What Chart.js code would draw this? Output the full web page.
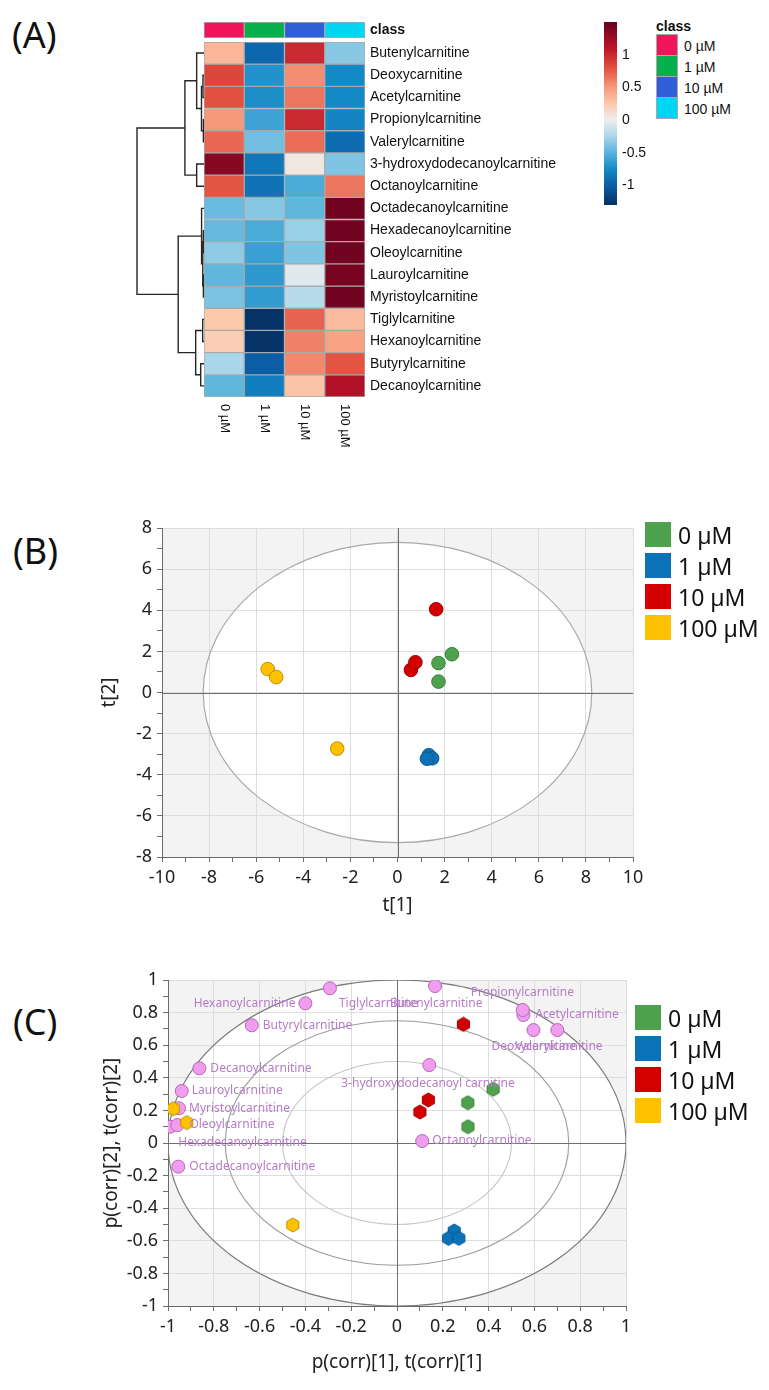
<!DOCTYPE html>
<html>
<head>
<meta charset="utf-8">
<title>Carnitine profile</title>
<script src="https://cdn.jsdelivr.net/npm/chart.js@4.4.1/dist/chart.umd.min.js"></script>
<style>
  body { margin: 0; background: #fff; }
  #page { position: relative; width: 769px; height: 1390px; overflow: hidden; font-family: "Noto Sans", sans-serif; color: #111; }
  canvas, .tag, .legend { position: absolute; }
  .tag { font-size: 36px; line-height: 1; }
  .legend .item { display: flex; align-items: center; }
  .legend .sw { flex: none; }
  #classLegend { font-family: "Liberation Sans", sans-serif; font-size: 14px; }
  #classLegend .head { font-weight: bold; margin-bottom: 1px; }
  #classLegend .sw { width: 20px; height: 20px; border: 1px solid #a8a8a8; margin-top: -1px; }
  #classLegend .txt { margin-left: 6px; }
  .big .item { height: 31px; font-size: 23px; }
  .big .sw { width: 26px; height: 25px; }
  .big .txt { margin-left: 7px; }
</style>
</head>
<body>
<div id="page">
  <div class="tag" style="left:12px;top:17px">(A)</div>
  <div class="tag" style="left:13px;top:533px">(B)</div>
  <div class="tag" style="left:13px;top:1004px">(C)</div>
  <canvas id="dendro" width="76" height="470" style="left:130px;top:0"></canvas>
  <canvas id="heatmap" width="460" height="470" style="left:130px;top:0"></canvas>
  <canvas id="colorbar" width="60" height="230" style="left:590px;top:0"></canvas>
  <div id="classLegend" class="legend" style="left:656px;top:18px"></div>
  <canvas id="scores" width="769" height="430" style="left:0;top:500px"></canvas>
  <div id="scoresLegend" class="legend big" style="left:645px;top:519px"></div>
  <canvas id="biplot" width="769" height="450" style="left:0;top:940px"></canvas>
  <div id="biplotLegend" class="legend big" style="left:635px;top:1002px"></div>
</div>
<script>
Chart.defaults.animation = false;
Chart.defaults.font.family = '"Noto Sans", sans-serif';
Chart.defaults.plugins.legend.display = false;
Chart.defaults.plugins.tooltip.enabled = false;

// ---------- data: panel A (heatmap, z-scores) ----------
const classes = ['0 µM', '1 µM', '10 µM', '100 µM'];
const carnitines = ['Butenylcarnitine', 'Deoxycarnitine', 'Acetylcarnitine', 'Propionylcarnitine',
  'Valerylcarnitine', '3-hydroxydodecanoylcarnitine', 'Octanoylcarnitine', 'Octadecanoylcarnitine',
  'Hexadecanoylcarnitine', 'Oleoylcarnitine', 'Lauroylcarnitine', 'Myristoylcarnitine',
  'Tiglylcarnitine', 'Hexanoylcarnitine', 'Butyrylcarnitine', 'Decanoylcarnitine'];
const heat0uM   = [0.35, 0.85, 0.80, 0.50, 0.70, 1.35, 0.78, -0.45, -0.46, -0.33, -0.48, -0.40, 0.25, 0.22, -0.25, -0.48];
const heat1uM   = [-0.95, -0.70, -0.72, -0.60, -0.42, -0.85, -0.88, -0.36, -0.55, -0.62, -0.66, -0.64, -1.28, -1.28, -1.00, -0.82];
const heat10uM  = [1.00, 0.55, 0.65, 1.00, 0.68, 0.05, -0.55, -0.48, -0.30, -0.38, -0.05, -0.20, 0.72, 0.60, 0.57, 0.28];
const heat100uM = [-0.35, -0.75, -0.75, -0.78, -0.92, -0.38, 0.65, 1.45, 1.45, 1.45, 1.42, 1.45, 0.33, 0.45, 0.78, 1.15];
// [child A, child B, height]; children 0-15 are rows, 16+ are earlier merges
const dendroMerges = [
  [1, 2, 1.0], [3, 4, 0.6], [16, 17, 2.5], [0, 18, 7.3], [5, 6, 7.3], [19, 20, 19],
  [8, 9, 0.6], [10, 11, 0.6], [22, 23, 1.2], [7, 24, 2.4],
  [12, 13, 1.3], [14, 15, 3.3], [26, 27, 8.3], [25, 28, 25.7], [21, 29, 66.7]
];
const colorbarTicks = [-1, -0.5, 0, 0.5, 1];

// ---------- data: panel B (scores t[1], t[2]) ----------
const t1_0uM = [1.74, 1.74, 2.31],    t2_0uM = [0.53, 1.43, 1.86];
const t1_1uM = [1.33, 1.47, 1.25],    t2_1uM = [-3.05, -3.20, -3.22];
const t1_10uM = [0.57, 0.76, 1.64],   t2_10uM = [1.10, 1.47, 4.05];
const t1_100uM = [-5.51, -5.15, -2.56], t2_100uM = [1.14, 0.75, -2.73];
const scoreTicks = [-10, -8, -6, -4, -2, 0, 2, 4, 6, 8, 10];
const scoreTicksY = [-8, -6, -4, -2, 0, 2, 4, 6, 8];

// ---------- data: panel C (correlation biplot) ----------
const pc1_0uM = [0.31, 0.309, 0.42],    pc2_0uM = [0.10, 0.247, 0.33];
const pc1_1uM = [0.25, 0.225, 0.27],    pc2_1uM = [-0.54, -0.585, -0.585];
const pc1_10uM = [0.10, 0.137, 0.29],   pc2_10uM = [0.19, 0.264, 0.728];
const pc1_100uM = [-0.977, -0.918, -0.455], pc2_100uM = [0.21, 0.125, -0.503];
const loadingNames = ['Butenylcarnitine', 'Deoxycarnitine', 'Acetylcarnitine', 'Propionylcarnitine',
  'Valerylcarnitine', '3-hydroxydodecanoyl carnitine', 'Octanoylcarnitine', 'Octadecanoylcarnitine',
  'Hexadecanoylcarnitine', 'Oleoylcarnitine', 'Lauroylcarnitine', 'Myristoylcarnitine',
  'Tiglylcarnitine', 'Hexanoylcarnitine', 'Butyrylcarnitine', 'Decanoylcarnitine'];
const loadingP1 = [0.166, 0.596, 0.552, 0.549, 0.70, 0.141, 0.11, -0.955, -0.99, -0.959, -0.94, -0.952, -0.293, -0.40, -0.634, -0.863];
const loadingP2 = [0.963, 0.693, 0.785, 0.816, 0.693, 0.478, 0.012, -0.145, 0.10, 0.11, 0.319, 0.213, 0.949, 0.857, 0.722, 0.458];
const corrTicks = [-1, -0.8, -0.6, -0.4, -0.2, 0, 0.2, 0.4, 0.6, 0.8, 1];

// ---------- styles ----------
const classColors = ['#f2145a', '#06b04d', '#2e5fd8', '#00d5f4'];
const groupColors = ['#4ea24e', '#0c73b8', '#d40000', '#ffc000'];
const groupBorders = ['#39803a', '#0a5890', '#9e0000', '#c08f00'];
const heatStops  = [-1.3, -1.0, -0.75, -0.5, -0.25, 0, 0.25, 0.5, 0.8, 1.1, 1.5];
const heatColors = ['#053061', '#0b5ea6', '#138ac6', '#5ab4dd', '#a9d6ea', '#eeeeee',
                    '#fcc9ad', '#f6997a', '#e2503f', '#bd1529', '#67001f'];
// label offset from its point, px: [dx, dy, align]
const loadingLabelPlacement = [
  [-45, 18, 'left'], [-42, 17, 'left'], [12, 0, 'left'], [-52, -17, 'left'],
  [-42, 17, 'left'], [-88, 18, 'left'], [10, 0, 'left'], [11, 0, 'left'],
  [8, 16, 'left'], [12, 0, 'left'], [10, 0, 'left'], [10, 0, 'left'],
  [9, 15, 'left'], [-10, 0, 'right'], [11, 0, 'left'], [11, 0, 'left']
];

const HM_MIN = -0.9, HM_MAX = 16;          // y range of the heatmap rows
const CLASS_BAR = [-0.9, -0.18];           // class strip above the rows

function hexToRgb(h) {
  const n = parseInt(h.slice(1), 16);
  return [(n >> 16) & 255, (n >> 8) & 255, n & 255];
}
function heatColor(v) {
  if (v <= heatStops[0]) return heatColors[0];
  for (let i = 1; i < heatStops.length; i++) {
    if (v <= heatStops[i]) {
      const f = (v - heatStops[i - 1]) / (heatStops[i] - heatStops[i - 1]);
      const a = hexToRgb(heatColors[i - 1]), b = hexToRgb(heatColors[i]);
      return 'rgb(' + a.map((c, k) => Math.round(c + (b[k] - c) * f)).join(',') + ')';
    }
  }
  return heatColors[heatColors.length - 1];
}

// ---------- panel A: dendrogram ----------
function dendroSegments() {
  const nodes = carnitines.map((c, i) => ({ y: i + 0.5, h: 0 }));
  return dendroMerges.map(([a, b, h]) => {
    const A = nodes[a], B = nodes[b];
    nodes.push({ y: (A.y + B.y) / 2, h: h });
    return [{ x: A.h, y: A.y }, { x: h, y: A.y }, { x: h, y: B.y }, { x: B.h, y: B.y }];
  });
}

new Chart(document.getElementById('dendro'), {
  type: 'scatter',
  data: {
    datasets: dendroSegments().map(seg => ({
      data: seg, showLine: true, pointRadius: 0, borderColor: '#262626', borderWidth: 1.4,
      tension: 0, clip: false
    }))
  },
  options: {
    responsive: false,
    layout: { padding: { left: 7, right: 2, top: 22, bottom: 73 } },
    scales: {
      x: { type: 'linear', min: 0, max: 66.7, reverse: true, display: false },
      y: { type: 'linear', min: HM_MIN, max: HM_MAX, reverse: true, display: false }
    }
  }
});

// ---------- panel A: heatmap cells ----------
const heatColumns = [heat0uM, heat1uM, heat10uM, heat100uM];
const cellDatasets = carnitines.map((name, r) => ({
  label: name,
  data: classes.map(() => [r, r + 1]),
  backgroundColor: heatColumns.map(col => heatColor(col[r])),
  borderColor: '#a9a9a9', borderWidth: 1, borderSkipped: false,
  grouped: false, barPercentage: 1, categoryPercentage: 1
}));
cellDatasets.unshift({
  label: 'class',
  data: classes.map(() => CLASS_BAR),
  backgroundColor: classColors,
  borderColor: '#a9a9a9', borderWidth: 1, borderSkipped: false,
  grouped: false, barPercentage: 1, categoryPercentage: 1
});

const columnLabels = {
  id: 'columnLabels',
  afterDraw(chart) {
    const { ctx, chartArea, scales } = chart;
    ctx.save();
    ctx.font = '13px "Liberation Sans", sans-serif';
    ctx.fillStyle = '#111';
    ctx.textAlign = 'left';
    ctx.textBaseline = 'middle';
    classes.forEach((c, i) => {
      ctx.save();
      ctx.translate(scales.x.getPixelForValue(i), chartArea.bottom + 7);
      ctx.rotate(Math.PI / 2);
      ctx.fillText(c, 0, 0);
      ctx.restore();
    });
    ctx.restore();
  }
};

new Chart(document.getElementById('heatmap'), {
  type: 'bar',
  data: { labels: classes, datasets: cellDatasets },
  plugins: [columnLabels],
  options: {
    responsive: false,
    layout: { padding: { left: 74, right: 0, top: 22, bottom: 73 } },
    scales: {
      x: { display: false },
      y: {
        position: 'right', min: HM_MIN, max: HM_MAX, reverse: true,
        grid: { display: false, drawTicks: false }, border: { display: false },
        afterBuildTicks: s => {
          s.ticks = [{ value: (CLASS_BAR[0] + CLASS_BAR[1]) / 2 }]
            .concat(carnitines.map((c, i) => ({ value: i + 0.5 })));
        },
        ticks: {
          autoSkip: false, padding: 5, color: '#111',
          font: c => ({ family: '"Liberation Sans", sans-serif', size: 14, weight: c.index === 0 ? 'bold' : 'normal' }),
          callback: (v, i) => i === 0 ? 'class' : carnitines[i - 1]
        },
        afterFit: s => { s.width = 225; }
      }
    }
  }
});

// ---------- panel A: colour key ----------
new Chart(document.getElementById('colorbar'), {
  type: 'bar',
  data: {
    labels: ['z'],
    datasets: [{
      data: [[heatStops[0], heatStops[heatStops.length - 1]]],
      barPercentage: 1, categoryPercentage: 1, borderWidth: 0,
      backgroundColor: c => {
        const chart = c.chart;
        if (!chart.chartArea) return heatColors[0];
        const ys = chart.scales.y;
        const lo = heatStops[0], hi = heatStops[heatStops.length - 1];
        const g = chart.ctx.createLinearGradient(0, ys.getPixelForValue(lo), 0, ys.getPixelForValue(hi));
        heatStops.forEach((s, i) => g.addColorStop((s - lo) / (hi - lo), heatColors[i]));
        return g;
      }
    }]
  },
  options: {
    responsive: false,
    layout: { padding: { left: 14, right: 0, top: 22, bottom: 25 } },
    scales: {
      x: { display: false },
      y: {
        position: 'right', min: heatStops[0], max: heatStops[heatStops.length - 1],
        grid: { display: false, drawTicks: false }, border: { display: false },
        afterBuildTicks: s => { s.ticks = colorbarTicks.map(v => ({ value: v })); },
        ticks: {
          padding: 5, color: '#111', font: { family: '"Liberation Sans", sans-serif', size: 14 },
          callback: v => String(v)
        },
        afterFit: s => { s.width = 33; }
      }
    }
  }
});

// ---------- HTML legends ----------
function buildLegend(id, colors, head, border) {
  const el = document.getElementById(id);
  let html = head ? '<div class="head">' + head + '</div>' : '';
  classes.forEach((c, i) => {
    html += '<div class="item"><div class="sw" style="background:' + colors[i] +
      (border ? '' : ';border:none') + '"></div><div class="txt">' + c + '</div></div>';
  });
  el.innerHTML = html;
}
buildLegend('classLegend', classColors, 'class', true);
buildLegend('scoresLegend', groupColors, null, false);
buildLegend('biplotLegend', groupColors, null, false);

// ---------- shared helpers for the score plots ----------
const ellipsePlugin = {
  id: 'ellipse',
  beforeDraw(chart, args, opts) {
    const { ctx, chartArea: a, scales: { x, y } } = chart;
    const cx = x.getPixelForValue(0), cy = y.getPixelForValue(0);
    const outer = opts.rings[0];
    ctx.save();
    ctx.fillStyle = '#f3f3f3';
    ctx.fillRect(a.left, a.top, a.width, a.height);
    ctx.beginPath();
    ctx.ellipse(cx, cy, Math.abs(x.getPixelForValue(outer.rx) - cx), Math.abs(y.getPixelForValue(outer.ry) - cy), 0, 0, Math.PI * 2);
    ctx.fillStyle = '#ffffff';
    ctx.fill();
    ctx.restore();
  },
  beforeDatasetsDraw(chart, args, opts) {
    const { ctx, chartArea: a, scales: { x, y } } = chart;
    const cx = x.getPixelForValue(0), cy = y.getPixelForValue(0);
    ctx.save();
    ctx.beginPath();
    ctx.rect(a.left, a.top, a.width, a.height);
    ctx.clip();
    opts.rings.forEach(r => {
      ctx.beginPath();
      ctx.ellipse(cx, cy, Math.abs(x.getPixelForValue(r.rx) - cx), Math.abs(y.getPixelForValue(r.ry) - cy), 0, 0, Math.PI * 2);
      ctx.strokeStyle = r.color;
      ctx.lineWidth = r.width;
      ctx.stroke();
    });
    // origin lines on top of the rings
    ctx.strokeStyle = '#6e6e6e';
    ctx.lineWidth = 1;
    ctx.beginPath();
    ctx.moveTo(Math.round(cx) + 0.5, a.top); ctx.lineTo(Math.round(cx) + 0.5, a.bottom);
    ctx.moveTo(a.left, Math.round(cy) + 0.5); ctx.lineTo(a.right, Math.round(cy) + 0.5);
    ctx.stroke();
    ctx.restore();
  }
};

function scoreAxis(major, position, title, titlePad, fit) {
  return {
    type: 'linear', position: position, min: major[0], max: major[major.length - 1],
    afterBuildTicks: s => {
      const t = [];
      major.forEach((m, k) => {
        t.push({ value: m });
        if (k < major.length - 1) t.push({ value: (m + major[k + 1]) / 2 });
      });
      s.ticks = t;
    },
    ticks: {
      autoSkip: false, maxRotation: 0, minRotation: 0, padding: 5, color: '#222',
      font: { size: 18 },
      callback: v => major.some(m => Math.abs(m - v) < 1e-9) ? String(Number(v.toFixed(1))) : ''
    },
    grid: {
      tickLength: 5, tickColor: '#707070', lineWidth: 1,
      color: c => (c.tick && c.tick.label !== '') ? '#dddddd' : 'rgba(0,0,0,0)'
    },
    border: { display: true, color: '#6a6a6a' },
    title: { display: true, text: title, color: '#222', font: { size: 19 }, padding: titlePad },
    afterFit: fit
  };
}

function pts(xs, ys) { return xs.map((v, i) => ({ x: v, y: ys[i] })); }

// ---------- panel B: score plot ----------
const scoreX = [t1_0uM, t1_1uM, t1_10uM, t1_100uM];
const scoreY = [t2_0uM, t2_1uM, t2_10uM, t2_100uM];
new Chart(document.getElementById('scores'), {
  type: 'scatter',
  data: {
    datasets: classes.map((c, i) => ({
      label: c, data: pts(scoreX[i], scoreY[i]),
      pointRadius: 6.8, pointBorderWidth: 1,
      backgroundColor: groupColors[i], borderColor: groupBorders[i]
    }))
  },
  plugins: [ellipsePlugin],
  options: {
    responsive: false,
    layout: { padding: { left: 0, right: 136, top: 28, bottom: 0 } },
    plugins: { ellipse: { rings: [{ rx: 8.25, ry: 7.3, color: '#a9a9a9', width: 1.2 }] } },
    scales: {
      x: scoreAxis(scoreTicks, 'bottom', 't[1]', { top: 0, bottom: 13 }, s => { s.height = 73; }),
      y: scoreAxis(scoreTicksY, 'left', 't[2]', { top: 98, bottom: 0 }, s => { s.width = 162; })
    }
  }
});

// ---------- panel C: biplot ----------
function hexagon(fill, stroke, r) {
  const w = Math.ceil(r * Math.sqrt(3)) + 2, h = Math.ceil(r * 2) + 2;
  const c = document.createElement('canvas');
  c.width = w; c.height = h;
  const g = c.getContext('2d');
  g.beginPath();
  for (let k = 0; k < 6; k++) {
    const ang = -Math.PI / 2 + k * Math.PI / 3;
    const px = w / 2 + r * Math.cos(ang), py = h / 2 + r * Math.sin(ang);
    if (k === 0) g.moveTo(px, py); else g.lineTo(px, py);
  }
  g.closePath();
  g.fillStyle = fill; g.fill();
  g.strokeStyle = stroke; g.lineWidth = 1; g.stroke();
  return c;
}

const loadingLabels = {
  id: 'loadingLabels',
  afterDatasetsDraw(chart) {
    const { ctx } = chart;
    const meta = chart.getDatasetMeta(chart.data.datasets.length - 1);
    ctx.save();
    ctx.font = '12px "Noto Sans", sans-serif';
    ctx.fillStyle = '#b67cc6';
    ctx.textBaseline = 'middle';
    meta.data.forEach((el, i) => {
      const [dx, dy, align] = loadingLabelPlacement[i];
      ctx.textAlign = align;
      ctx.fillText(loadingNames[i], el.x + dx, el.y + dy);
    });
    ctx.restore();
  }
};

const corrX = [pc1_0uM, pc1_1uM, pc1_10uM, pc1_100uM];
const corrY = [pc2_0uM, pc2_1uM, pc2_10uM, pc2_100uM];
const biplotSets = classes.map((c, i) => ({
  label: c, data: pts(corrX[i], corrY[i]),
  pointStyle: hexagon(groupColors[i], groupBorders[i], 7),
  pointRadius: 7
}));
biplotSets.push({
  label: 'loadings', data: pts(loadingP1, loadingP2),
  pointRadius: 6.5, pointBorderWidth: 1,
  backgroundColor: '#f09df0', borderColor: '#b46ab4'
});

new Chart(document.getElementById('biplot'), {
  type: 'scatter',
  data: { datasets: biplotSets },
  plugins: [ellipsePlugin, loadingLabels],
  options: {
    responsive: false,
    layout: { padding: { left: 0, right: 143, top: 40, bottom: 0 } },
    plugins: {
      ellipse: {
        rings: [
          { rx: 1, ry: 1, color: '#7a7a7a', width: 1.2 },
          { rx: 0.75, ry: 0.75, color: '#9c9c9c', width: 1.1 },
          { rx: 0.5, ry: 0.5, color: '#c4c4c4', width: 1.1 }
        ]
      }
    },
    scales: {
      x: scoreAxis(corrTicks, 'bottom', 'p(corr)[1], t(corr)[1]', { top: 0, bottom: 16 }, s => { s.height = 84; }),
      y: scoreAxis(corrTicks, 'left', 'p(corr)[2], t(corr)[2]', { top: 100, bottom: 0 }, s => { s.width = 168; })
    }
  }
});
</script>
</body>
</html>
